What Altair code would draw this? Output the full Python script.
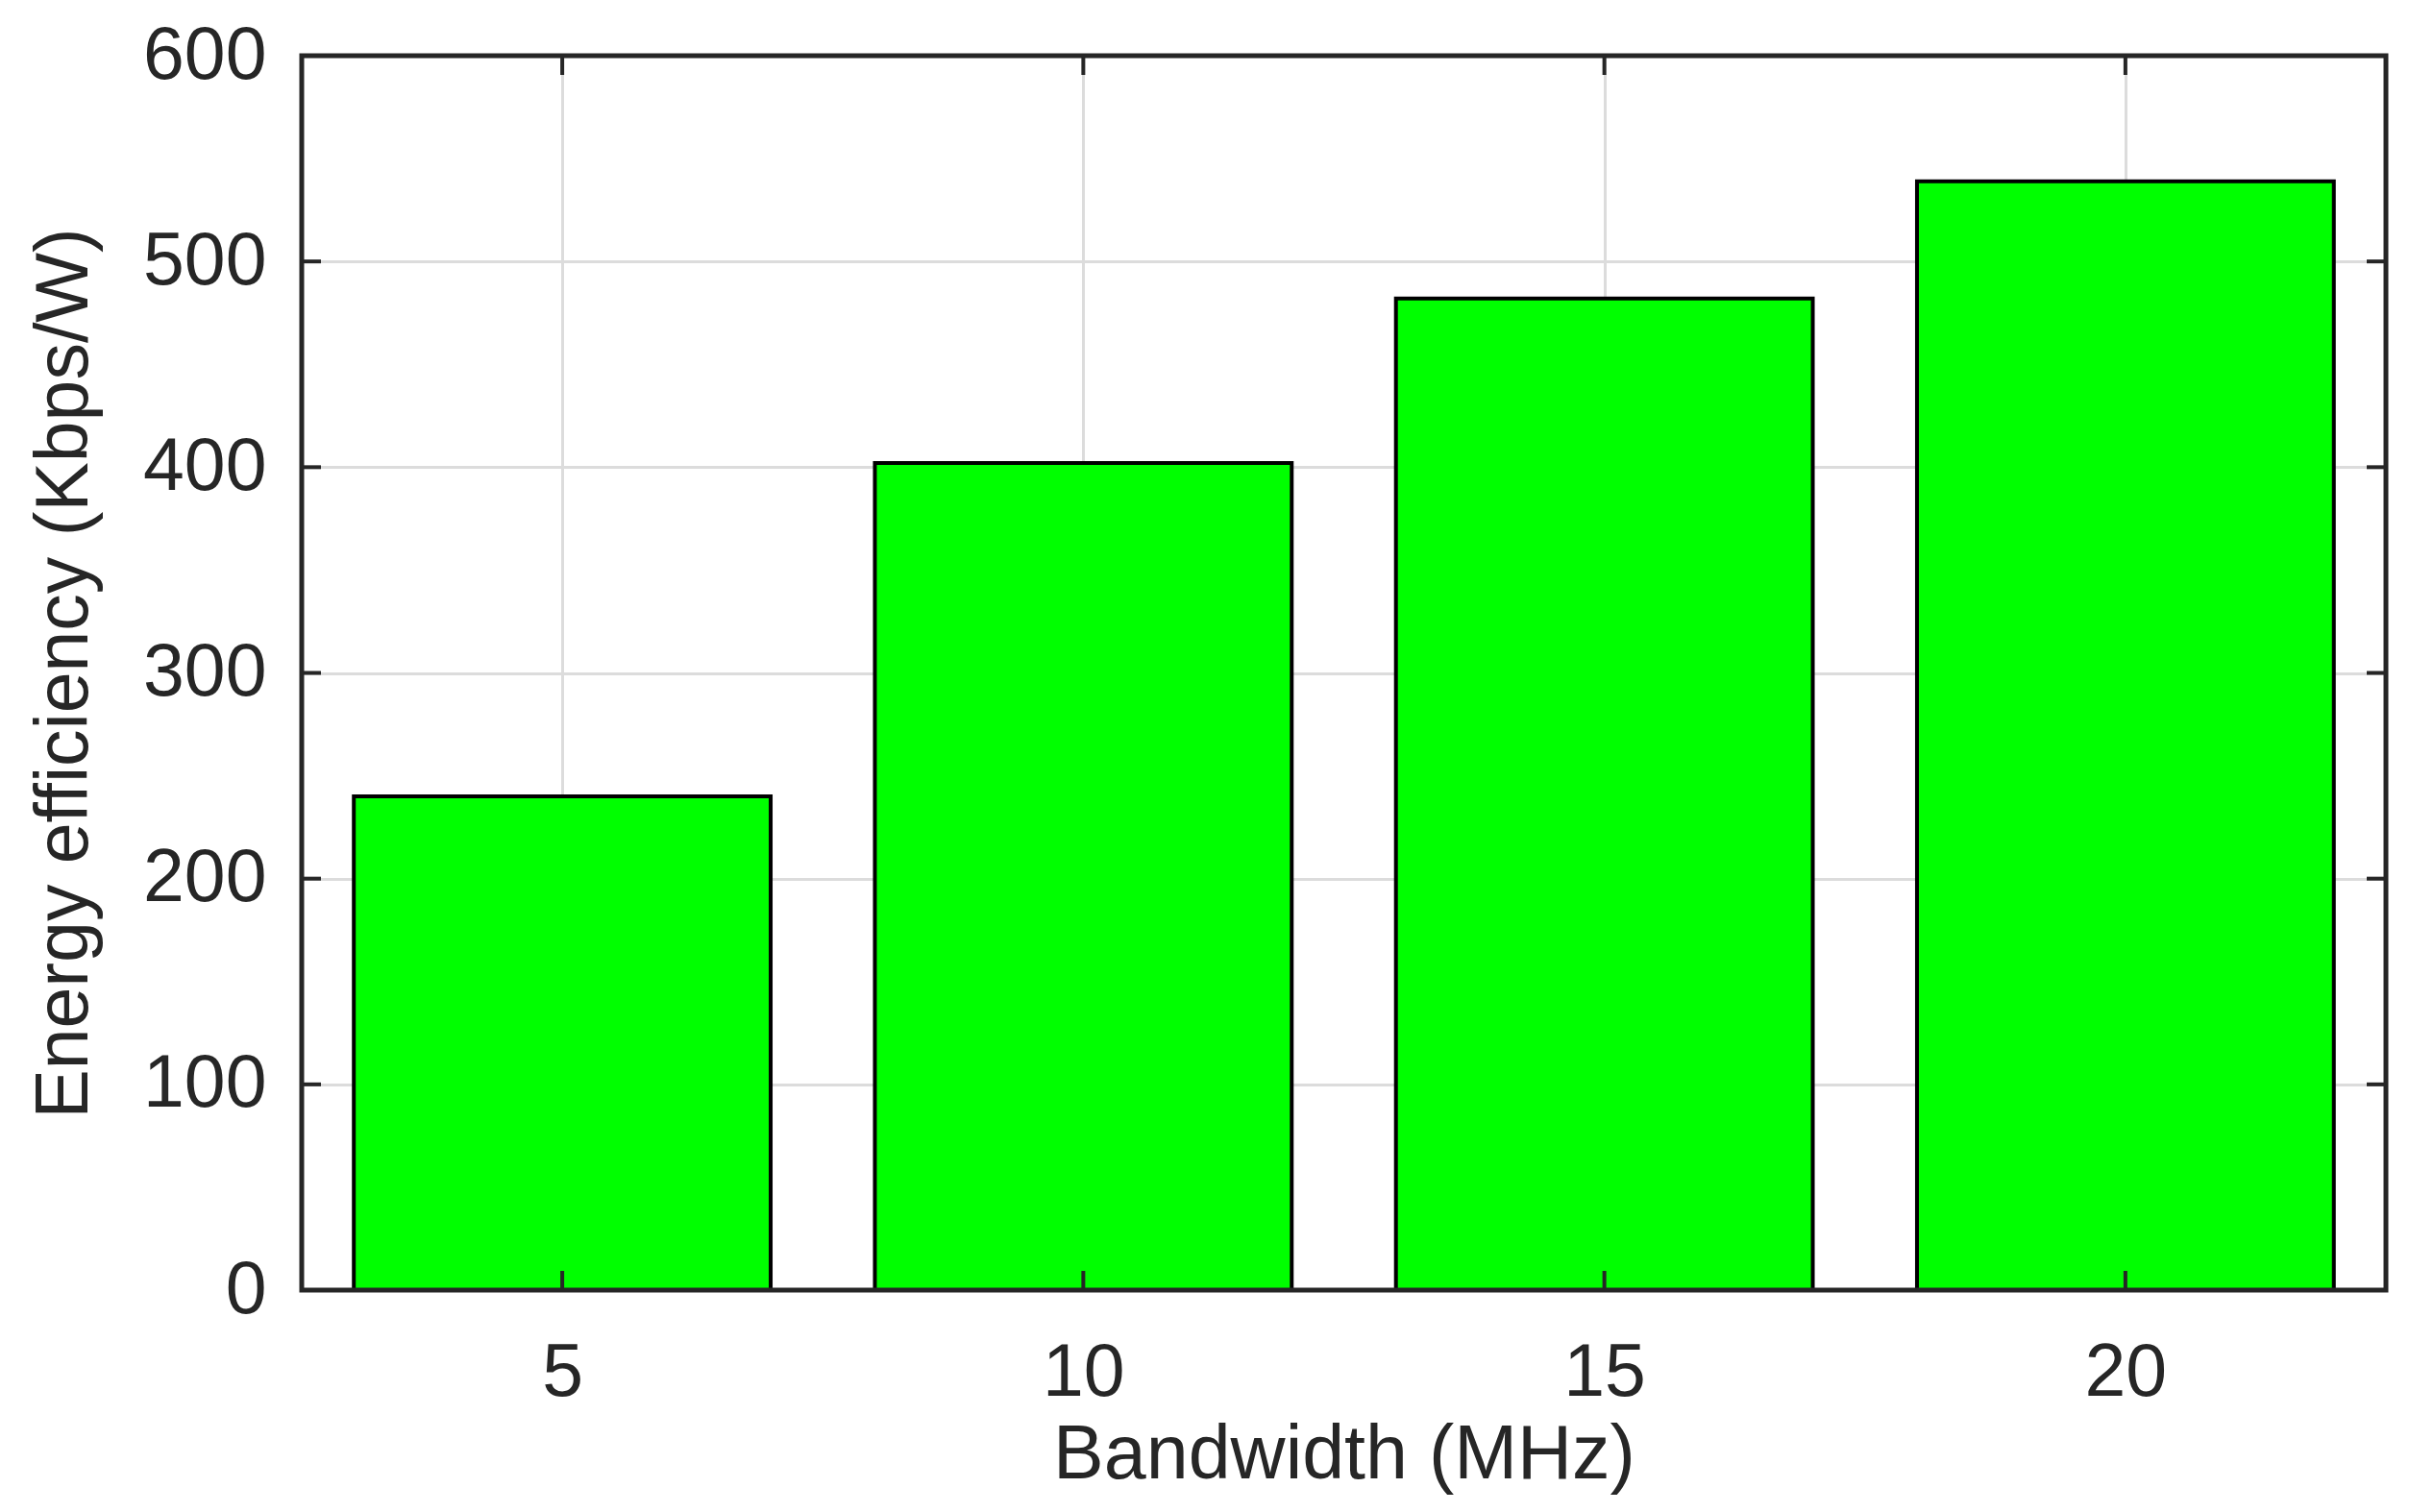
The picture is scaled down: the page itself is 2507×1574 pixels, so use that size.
import altair as alt
import pandas as pd

# Data
bandwidth = [5, 10, 15, 20]
efficiency = [240, 402, 482, 539]
y_ticks = [0, 100, 200, 300, 400, 500, 600]
x_ticks = [5, 10, 15, 20]

W, H = 2169, 1285
TXT = "#262626"
FONT = "Liberation Sans"

bars_df = pd.DataFrame({"bw": bandwidth, "eff": efficiency})
yt_df = pd.DataFrame({"v": y_ticks})
xt_df = pd.DataFrame({"v": x_ticks})

xscale = alt.Scale(domain=[2.5, 22.5], nice=False, zero=False)
yscale = alt.Scale(domain=[0, 600], nice=False)

bars = alt.Chart(bars_df).transform_calculate(
    x0="datum.bw - 2", x1="datum.bw + 2"
).mark_bar(color="#00ff00", stroke="black", strokeWidth=4).encode(
    x=alt.X("x0:Q", scale=xscale,
            axis=alt.Axis(values=x_ticks, format="d", title="Bandwidth (MHz)", grid=True,
                          gridColor="#dcdcdc", gridWidth=3, ticks=False, tickSize=0,
                          domain=False, labelFontSize=77, labelFont=FONT, labelColor=TXT,
                          labelPadding=109, labelBaseline="alphabetic",
                          titleFontSize=79, titleFont=FONT, titleColor=TXT,
                          titleFontWeight="normal", titleBaseline="alphabetic",
                          titleX=W / 2, titleY=195, titleAlign="center")),
    x2="x1:Q",
    y=alt.Y("eff:Q", scale=yscale,
            axis=alt.Axis(values=y_ticks, format="d", title="Energy efficiency (Kbps/W)", grid=True,
                          gridColor="#dcdcdc", gridWidth=3, ticks=False, tickSize=0,
                          domain=False, labelFontSize=77, labelFont=FONT, labelColor=TXT,
                          labelPadding=37,
                          titleFontSize=77, titleFont=FONT, titleColor=TXT,
                          titleFontWeight="normal", titleBaseline="alphabetic",
                          titleAngle=270, titleX=-224, titleY=H / 2, titleAlign="center")),
    y2=alt.datum(0),
)

tick_len = 20
yl = alt.Chart(yt_df).mark_rule(color=TXT, strokeWidth=4).encode(
    y=alt.Y("v:Q", scale=yscale), x=alt.value(0), x2=alt.value(tick_len))
yr = alt.Chart(yt_df).mark_rule(color=TXT, strokeWidth=4).encode(
    y=alt.Y("v:Q", scale=yscale), x=alt.value(W - tick_len), x2=alt.value(W))
xb = alt.Chart(xt_df).mark_rule(color=TXT, strokeWidth=4).encode(
    x=alt.X("v:Q", scale=xscale), y=alt.value(H - tick_len), y2=alt.value(H))
xtp = alt.Chart(xt_df).mark_rule(color=TXT, strokeWidth=4).encode(
    x=alt.X("v:Q", scale=xscale), y=alt.value(0), y2=alt.value(tick_len))

# box border drawn on top
box = alt.Chart(pd.DataFrame({"a": [0]})).mark_rect(
    fill=None, stroke=TXT, strokeWidth=5).encode(
    x=alt.value(0), x2=alt.value(W), y=alt.value(0), y2=alt.value(H))

chart = alt.layer(bars, yl, yr, xb, xtp, box).properties(
    width=W, height=H,
    autosize=alt.AutoSizeParams(type="none"),
    padding={"left": 306, "top": 50, "right": 16, "bottom": 220},
).configure_view(stroke=None).configure(background="white")

chart.save("out.html", embed_options={"renderer": "svg", "actions": False})
